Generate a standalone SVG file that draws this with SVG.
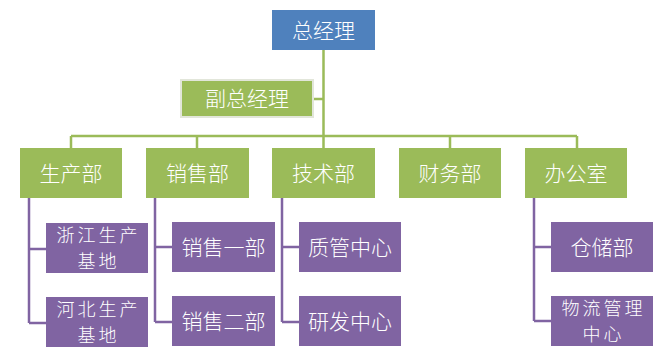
<svg xmlns="http://www.w3.org/2000/svg" width="661" height="360" viewBox="0 0 661 360">
<style>
.blue{fill:#4F81BD}
.green{fill:#9BBB59}
.purple{fill:#8064A2}
.t{fill:#ffffff;font-family:"Noto Sans CJK SC","Noto Sans",sans-serif;font-size:21px;font-weight:300;text-anchor:middle}
.t2{font-size:18px;letter-spacing:3px}
.gl{stroke:#9BBB59;stroke-width:2.5;fill:none}
.pl{stroke:#8064A2;stroke-width:2.5;fill:none}
</style>
<rect width="661" height="360" fill="#ffffff"/>
<g id="connectors">
<path class="gl" d="M323.5,50V148M313,99H323.5M71,136H577M71,136V148M197,136V148M450,136V148M577,136V148"/>
<path class="pl" d="M29,198V323M29,249H46M29,323H46"/>
<path class="pl" d="M155,198V322M155,247H172M155,322H172"/>
<path class="pl" d="M282,198V322M282,247H299M282,322H299"/>
<path class="pl" d="M534,198V321M534,247H551M534,321H551"/>
</g>
<g id="n-ceo"><rect class="blue" x="272" y="10" width="103" height="40"/><text class="t" x="323.5" y="38">总经理</text></g>
<g id="n-vp"><rect class="green" x="181" y="80" width="132" height="37" stroke="#E2E6DA" stroke-width="2"/><text class="t" x="247" y="106">副总经理</text></g>
<g id="n-prod"><rect class="green" x="20" y="148" width="102" height="50"/><text class="t" x="71" y="181">生产部</text></g>
<g id="n-sales"><rect class="green" x="146" y="148" width="103" height="50"/><text class="t" x="197.5" y="181">销售部</text></g>
<g id="n-tech"><rect class="green" x="272" y="148" width="103" height="50"/><text class="t" x="323.5" y="181">技术部</text></g>
<g id="n-fin"><rect class="green" x="399" y="148" width="102" height="50"/><text class="t" x="450" y="181">财务部</text></g>
<g id="n-office"><rect class="green" x="525" y="148" width="102" height="50"/><text class="t" x="576" y="181">办公室</text></g>
<g id="n-zj"><rect class="purple" x="46" y="223" width="102" height="50"/><text class="t t2" x="98.5" y="241.5">浙江生产<tspan x="98.5" dy="26">基地</tspan></text></g>
<g id="n-hb"><rect class="purple" x="46" y="297" width="102" height="50"/><text class="t t2" x="98.5" y="315.5">河北生产<tspan x="98.5" dy="26">基地</tspan></text></g>
<g id="n-s1"><rect class="purple" x="172" y="222" width="103" height="50"/><text class="t" x="223.5" y="255">销售一部</text></g>
<g id="n-s2"><rect class="purple" x="172" y="296" width="103" height="50"/><text class="t" x="223.5" y="329">销售二部</text></g>
<g id="n-qc"><rect class="purple" x="299" y="222" width="102" height="50"/><text class="t" x="350" y="255">质管中心</text></g>
<g id="n-rd"><rect class="purple" x="299" y="296" width="102" height="50"/><text class="t" x="350" y="329">研发中心</text></g>
<g id="n-wh"><rect class="purple" x="551" y="222" width="102" height="50"/><text class="t" x="602" y="255">仓储部</text></g>
<g id="n-log"><rect class="purple" x="551" y="296" width="102" height="50"/><text class="t t2" x="603.5" y="314.5">物流管理<tspan x="603.5" dy="26">中心</tspan></text></g>
</svg>
